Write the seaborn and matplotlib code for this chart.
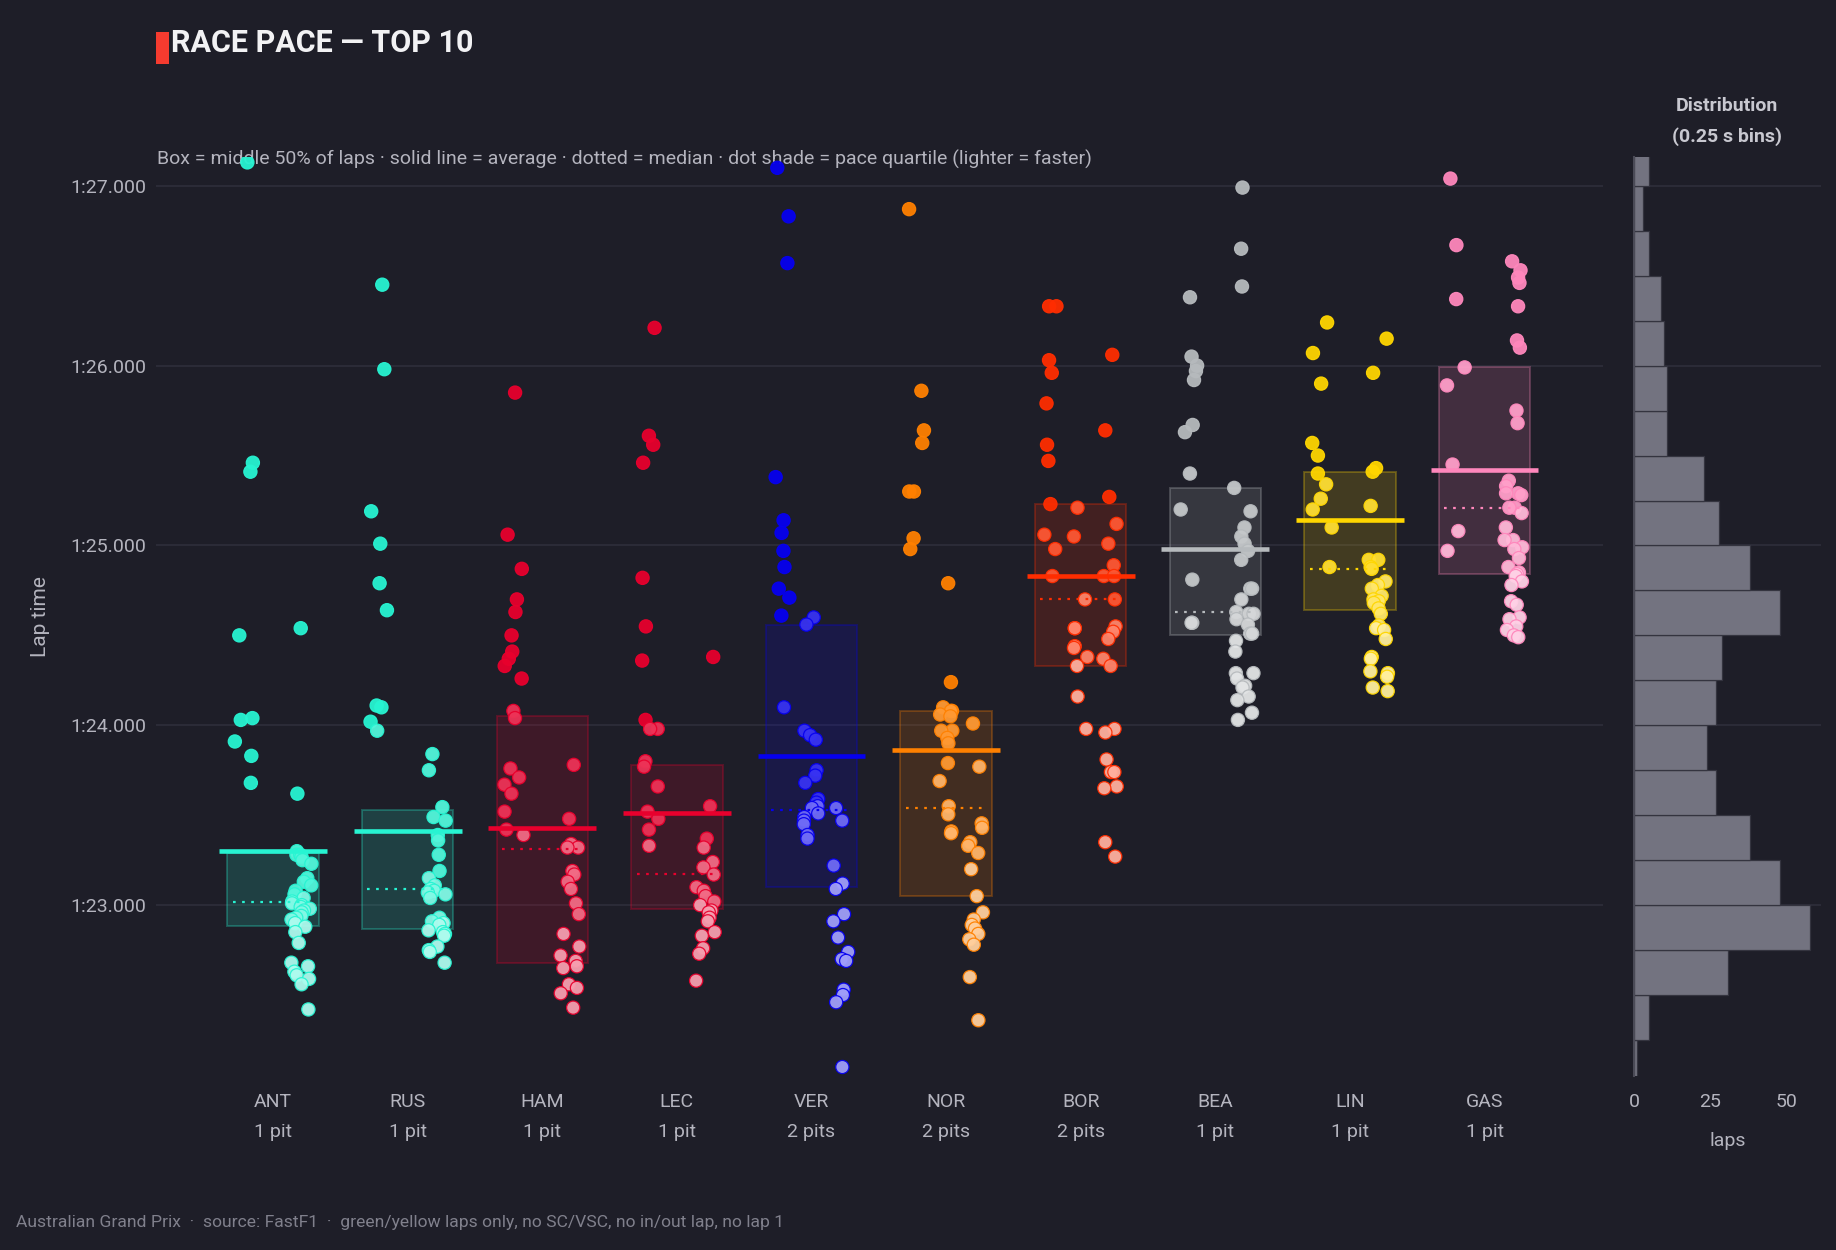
import numpy as np
import pandas as pd
import matplotlib
matplotlib.use("Agg")
import matplotlib.pyplot as plt
import seaborn as sns
from matplotlib.patches import Rectangle
from matplotlib.ticker import FuncFormatter
from matplotlib.colors import to_rgb

# ---------------- data (lap times in seconds) ----------------
drivers = ["ANT", "RUS", "HAM", "LEC", "VER", "NOR", "BOR", "BEA", "LIN", "GAS"]
pit_stops = [1, 1, 1, 1, 2, 2, 2, 1, 1, 1]
team_colors = ["#27F4D2", "#27F4D2", "#E8002D", "#E8002D", "#0600EF",
               "#FF8000", "#FF2D00", "#B6BABD", "#FFD600", "#FF87BC"]

ANT_laps = [[87.13, 85.46, 85.41, 84.50, 84.03, 84.04, 83.91, 83.83, 83.68],
            [84.54, 83.62, 83.30, 83.28, 83.28, 83.27, 83.25, 83.23, 83.15, 83.13, 83.11,
             83.08, 83.06, 83.04, 83.02, 83.01, 83.00, 82.99, 82.98, 82.97, 82.96, 82.94,
             82.93, 82.92, 82.90, 82.88, 82.85, 82.79, 82.68, 82.66, 82.63, 82.61, 82.59,
             82.56, 82.42]]
RUS_laps = [[86.45, 85.98, 85.19, 85.01, 84.79, 84.64, 84.11, 84.10, 84.02, 83.97],
            [83.84, 83.75, 83.545, 83.49, 83.47, 83.39, 83.36, 83.28, 83.19, 83.15, 83.11,
             83.09, 83.08, 83.07, 83.06, 83.04, 82.93, 82.91, 82.90, 82.89, 82.86, 82.85,
             82.84, 82.83, 82.77, 82.75, 82.74, 82.68]]
HAM_laps = [[85.85, 85.06, 84.87, 84.70, 84.63, 84.50, 84.41, 84.37, 84.33, 84.26, 84.08,
             84.04, 83.76, 83.71, 83.67, 83.62, 83.52, 83.42, 83.39],
            [83.78, 83.48, 83.34, 83.32, 83.32, 83.19, 83.17, 83.13, 83.09, 83.01, 82.95,
             82.84, 82.77, 82.72, 82.69, 82.66, 82.65, 82.56, 82.54, 82.51, 82.43]]
LEC_laps = [[86.21, 85.61, 85.56, 85.46, 84.82, 84.55, 84.36, 84.03, 83.98, 83.98, 83.80,
             83.77, 83.66, 83.52, 83.48, 83.42, 83.33],
            [84.38, 83.55, 83.37, 83.32, 83.24, 83.21, 83.17, 83.10, 83.08, 83.05, 83.02,
             83.00, 82.97, 82.96, 82.93, 82.91, 82.85, 82.83, 82.76, 82.73, 82.58]]
VER_laps = [[87.10, 86.83, 86.57, 85.38, 85.14, 85.07, 84.97, 84.88, 84.76, 84.71, 84.61,
             84.10],
            [84.60, 84.56, 83.97, 83.945, 83.92, 83.75, 83.72, 83.68, 83.59, 83.57, 83.55,
             83.54, 83.51, 83.49, 83.47, 83.45, 83.39, 83.37],
            [83.54, 83.47, 83.22, 83.12, 83.09, 82.95, 82.91, 82.82, 82.74, 82.70, 82.69,
             82.53, 82.50, 82.46, 82.10]]
NOR_laps = [[86.87, 85.86, 85.64, 85.57, 85.30, 85.30, 85.04, 84.98],
            [84.79, 84.24, 84.10, 84.08, 84.08, 84.06, 84.05, 83.97, 83.97, 83.93, 83.90,
             83.79, 83.69, 83.55, 83.505, 83.41, 83.40],
            [84.01, 83.77, 83.455, 83.43, 83.35, 83.33, 83.29, 83.20, 83.05, 82.96, 82.92,
             82.89, 82.87, 82.84, 82.81, 82.78, 82.60, 82.36]]
BOR_laps = [[86.33, 86.33, 86.03, 85.96, 85.79, 85.56, 85.47, 85.23, 85.06, 84.98, 84.83],
            [85.21, 85.05, 84.70, 84.54, 84.54, 84.44, 84.43, 84.38, 84.33, 84.16, 83.98],
            [86.06, 85.64, 85.27, 85.12, 85.01, 84.89, 84.83, 84.83, 84.70, 84.55, 84.52,
             84.48, 84.37, 84.33, 83.98, 83.96, 83.81, 83.74, 83.74, 83.66, 83.65, 83.35,
             83.27]]
BEA_laps = [[86.38, 86.05, 86.00, 85.97, 85.92, 85.67, 85.63, 85.40, 85.20, 84.81, 84.57,
             84.57],
            [86.99, 86.65, 86.44, 85.32, 85.19, 85.10, 85.05, 85.01, 84.97, 84.92, 84.76,
             84.76, 84.70, 84.63, 84.62, 84.62, 84.59, 84.56, 84.51, 84.51, 84.47, 84.41,
             84.29, 84.29, 84.26, 84.22, 84.21, 84.16, 84.14, 84.07, 84.03]]
LIN_laps = [[86.24, 86.07, 85.90, 85.57, 85.50, 85.40, 85.34, 85.26, 85.20, 85.10, 84.88],
            [86.15, 85.96, 85.43, 85.41, 85.22, 84.92, 84.92, 84.88, 84.87, 84.80, 84.78,
             84.76, 84.72, 84.70, 84.69, 84.68, 84.65, 84.62, 84.555, 84.54, 84.53, 84.48,
             84.38, 84.37, 84.30, 84.29, 84.27, 84.21, 84.19]]
GAS_laps = [[87.04, 86.67, 86.37, 85.99, 85.89, 85.45, 85.08, 84.97],
            [87.20, 86.58, 86.53, 86.49, 86.46, 86.33, 86.14, 86.10, 85.75, 85.68, 85.36,
             85.33, 85.29, 85.29, 85.28, 85.21, 85.21, 85.18, 85.10, 85.03, 85.03, 84.99,
             84.98, 84.93, 84.88, 84.85, 84.84, 84.83, 84.80, 84.78, 84.69, 84.67, 84.60,
             84.59, 84.55, 84.53, 84.50, 84.49]]

box_q1 = [82.885, 82.87, 82.68, 82.98, 83.10, 83.05, 84.33, 84.50, 84.64, 84.84]
box_q3 = [83.29, 83.53, 84.05, 83.78, 84.56, 84.08, 85.23, 85.32, 85.41, 85.99]
avg_line = [83.30, 83.41, 83.43, 83.515, 83.83, 83.865, 84.83, 84.98, 85.14, 85.42]
med_line = [83.02, 83.09, 83.31, 83.174, 83.53, 83.54, 84.70, 84.63, 84.87, 85.21]

hist_start = 82.0
hist_bin = 0.25
hist_counts = [1, 5, 31, 58, 48, 38, 27, 24, 27, 29, 48, 38, 28, 23, 11, 11, 10, 9, 5, 3, 5]

y_ticks = [83, 84, 85, 86, 87]
hist_ticks = [0, 25, 50]

title = "RACE PACE — TOP 10"
subtitle = ("Box = middle 50% of laps · solid line = average · dotted = median · "
            "dot shade = pace quartile (lighter = faster)")
footer = ("Australian Grand Prix  ·  source: FastF1  ·  green/yellow laps only, "
          "no SC/VSC, no in/out lap, no lap 1")

all_laps = [ANT_laps, RUS_laps, HAM_laps, LEC_laps, VER_laps,
            NOR_laps, BOR_laps, BEA_laps, LIN_laps, GAS_laps]

# ---------------- style ----------------
BG = "#1E1E28"
GRID = "#30303C"
TXT = "#B4B4BE"
FONT = ["Roboto", "DejaVu Sans"]

sns.set_theme(style="dark")
plt.rcParams["font.family"] = FONT
plt.rcParams["axes.facecolor"] = BG
plt.rcParams["figure.facecolor"] = BG

W, H = 1836, 1250
fig = plt.figure(figsize=(W / 100, H / 100), dpi=100)
ax_left, ax_right, ax_top, ax_bot = 156, 1603, 157, 1076
ax = fig.add_axes([ax_left / W, 1 - ax_bot / H, (ax_right - ax_left) / W, (ax_bot - ax_top) / H])
hx0, hx1 = 1634, 1821
axh = fig.add_axes([hx0 / W, 1 - ax_bot / H, (hx1 - hx0) / W, (ax_bot - ax_top) / H])

YLIM = (82.05, 87.16)


def lighten(c, f):
    r = np.array(to_rgb(c))
    return tuple(r + (1 - r) * f)


shade = [0.62, 0.42, 0.2, 0.0]   # fastest quartile lightest
rng = np.random.default_rng(7)

for i, (drv, laps, col) in enumerate(zip(drivers, all_laps, team_colors)):
    n_st = len(laps)
    offsets = [-0.21, 0.21] if n_st == 2 else [-0.22, 0.0, 0.22]
    jit = 0.075 if n_st == 2 else 0.06
    rows = []
    for s, st in enumerate(laps):
        for t in st:
            rows.append((i + offsets[s] + rng.uniform(-jit, jit), t))
    df = pd.DataFrame(rows, columns=["x", "t"])
    ranks = df["t"].rank(method="first").to_numpy() - 1
    df["q"] = np.floor(ranks * 4 / len(df)).astype(int).clip(0, 3)
    pal = {q: lighten(col, shade[q]) for q in range(4)}

    # IQR box
    ax.add_patch(Rectangle((i - 0.34, box_q1[i]), 0.68, box_q3[i] - box_q1[i],
                           facecolor=col, alpha=0.16, edgecolor="none", zorder=1))
    ax.add_patch(Rectangle((i - 0.34, box_q1[i]), 0.68, box_q3[i] - box_q1[i],
                           facecolor="none", edgecolor=col, alpha=0.28, lw=1.4, zorder=1))

    sns.scatterplot(data=df, x="x", y="t", hue="q", palette=pal, s=90,
                    edgecolor=col, linewidth=0.9, alpha=0.95, legend=False,
                    ax=ax, zorder=3)

    ax.plot([i - 0.4, i + 0.4], [avg_line[i]] * 2, color=col, lw=3.3,
            solid_capstyle="butt", zorder=4)
    ax.plot([i - 0.3, i + 0.3], [med_line[i]] * 2, color=col, lw=1.6,
            linestyle=(0, (1.2, 2.9)), zorder=4)

ax.set_xlim(-0.87, 9.88)
ax.set_ylim(*YLIM)
ax.set_yticks(y_ticks)
ax.yaxis.set_major_formatter(FuncFormatter(lambda v, p: f"{int(v // 60)}:{v - 60 * int(v // 60):06.3f}"))
ax.set_xticks(range(len(drivers)))
ax.set_xticklabels([f"{d}\n{p} pit" + ("s" if p > 1 else "") for d, p in zip(drivers, pit_stops)],
                   linespacing=1.85)
ax.tick_params(axis="both", length=0, colors=TXT, labelsize=14)
ax.tick_params(axis="x", pad=12)
ax.tick_params(axis="y", pad=7)
ax.grid(axis="y", color=GRID, lw=1.1)
ax.grid(axis="x", visible=False)
for sp in ax.spines.values():
    sp.set_visible(False)
ax.set_xlabel("")
ax.set_ylabel("Lap time", color=TXT, fontsize=15)
ax.yaxis.set_label_coords((50 - ax_left) / (ax_right - ax_left), 0.5)

# ---------------- histogram ----------------
edges = hist_start + hist_bin * np.arange(len(hist_counts) + 1)
hist_df = pd.DataFrame({"t": (edges[:-1] + edges[1:]) / 2, "n": hist_counts})
sns.histplot(data=hist_df, y="t", weights="n", bins=list(edges), ax=axh, color="#737380",
             edgecolor="#34343F", linewidth=0.9, alpha=1.0)
axh.set_ylim(*YLIM)
axh.set_xlim(0, 61.5)
axh.set_yticks(y_ticks)
axh.set_yticklabels([])
axh.set_xticks(hist_ticks)
axh.tick_params(axis="both", length=0, colors=TXT, labelsize=14)
axh.tick_params(axis="x", pad=12)
axh.grid(axis="y", color=GRID, lw=1.1)
axh.grid(axis="x", visible=False)
for k, sp in axh.spines.items():
    sp.set_visible(k == "left")
axh.spines["left"].set_color("#4A4A56")
axh.spines["left"].set_linewidth(1.5)
axh.set_ylabel("")
axh.set_xlabel("laps", color=TXT, fontsize=14, labelpad=15)

fig.text(1727 / W, 1 - 106 / H, "Distribution", ha="center", va="center",
         fontsize=14, fontweight="bold", color="#C8C8D0")
fig.text(1727 / W, 1 - 137 / H, "(0.25 s bins)", ha="center", va="center",
         fontsize=14, fontweight="bold", color="#C8C8D0")

# ---------------- titles ----------------
fig.patches.append(Rectangle((156 / W, 1 - 64 / H), 13 / W, 32 / H,
                             transform=fig.transFigure, facecolor="#F53B2F",
                             edgecolor="none"))
fig.text(171 / W, 1 - 52 / H, title, ha="left", va="baseline", fontsize=22,
         fontweight="bold", color="#F2F2F4")
ax.text(157 / W, 1 - 165 / H, subtitle, transform=fig.transFigure, ha="left",
        va="baseline", fontsize=14, color=TXT, zorder=1, clip_on=False)
fig.text(16 / W, 1 - 1227 / H, footer, ha="left", va="baseline", fontsize=12.6,
         color="#80808C")

fig.savefig("out.png", dpi=100, facecolor=BG)
